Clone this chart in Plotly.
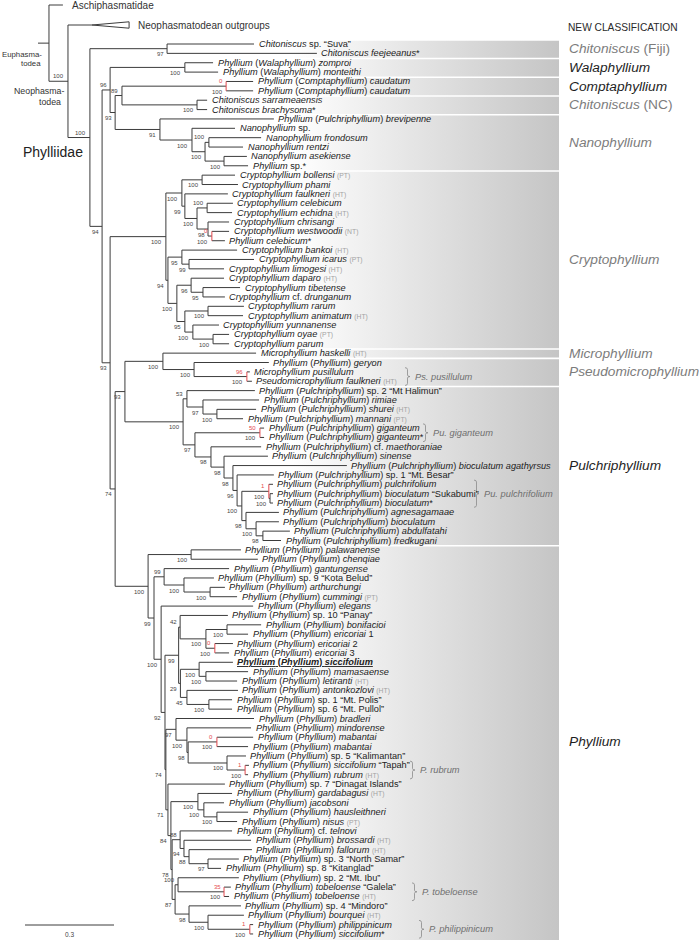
import re
import plotly.graph_objects as go

# ------------------------------------------------------------------ data
OUTGROUP_NAMES = ["Aschiphasmatidae", "Neophasmatodean outgroups"]

TIP_NAMES = [
    'Chitoniscus sp. “Suva”', 'Chitoniscus feejeeanus*',
    'Phyllium (Walaphyllium) zomproi', 'Phyllium (Walaphyllium) monteithi',
    'Phyllium (Comptaphyllium) caudatum', 'Phyllium (Comptaphyllium) caudatum',
    'Chitoniscus sarrameaensis', 'Chitoniscus brachysoma*',
    'Phyllium (Pulchriphyllium) brevipenne', 'Nanophyllium sp.', 'Nanophyllium frondosum',
    'Nanophyllium rentzi', 'Nanophyllium asekiense', 'Phyllium sp.*',
    'Cryptophyllium bollensi [PT]', 'Cryptophyllium phami', 'Cryptophyllium faulkneri [HT]',
    'Cryptophyllium celebicum', 'Cryptophyllium echidna [HT]', 'Cryptophyllium chrisangi',
    'Cryptophyllium westwoodii [NT]', 'Phyllium celebicum*', 'Cryptophyllium bankoi [HT]',
    'Cryptophyllium icarus [PT]', 'Cryptophyllium limogesi [HT]', 'Cryptophyllium daparo [HT]',
    'Cryptophyllium tibetense', 'Cryptophyllium cf. drunganum', 'Cryptophyllium rarum',
    'Cryptophyllium animatum [HT]', 'Cryptophyllium yunnanense', 'Cryptophyllium oyae [PT]',
    'Cryptophyllium parum',
    'Microphyllium haskelli [HT]', 'Phyllium (Phyllium) geryon', 'Microphyllium pusillulum',
    'Pseudomicrophyllium faulkneri [HT]',
    'Phyllium (Pulchriphyllium) sp. 2 “Mt Halimun”', 'Phyllium (Pulchriphyllium) rimiae',
    'Phyllium (Pulchriphyllium) shurei [HT]', 'Phyllium (Pulchriphyllium) mannani [PT]',
    'Phyllium (Pulchriphyllium) giganteum', 'Phyllium (Pulchriphyllium) giganteum*',
    'Phyllium (Pulchriphyllium) cf. maethoraniae', 'Phyllium (Pulchriphyllium) sinense',
    'Phyllium (Pulchriphyllium) bioculatum agathyrsus',
    'Phyllium (Pulchriphyllium) sp. 1 “Mt. Besar”', 'Phyllium (Pulchriphyllium) pulchrifolium',
    'Phyllium (Pulchriphyllium) bioculatum “Sukabumi”', 'Phyllium (Pulchriphyllium) bioculatum*',
    'Phyllium (Pulchriphyllium) agnesagamaae', 'Phyllium (Pulchriphyllium) bioculatum',
    'Phyllium (Pulchriphyllium) abdulfatahi', 'Phyllium (Pulchriphyllium) fredkugani',
    'Phyllium (Phyllium) palawanense', 'Phyllium (Phyllium) chenqiae',
    'Phyllium (Phyllium) gantungense', 'Phyllium (Phyllium) sp. 9 “Kota Belud”',
    'Phyllium (Phyllium) arthurchungi', 'Phyllium (Phyllium) cummingi [PT]',
    'Phyllium (Phyllium) elegans', 'Phyllium (Phyllium) sp. 10 “Panay”',
    'Phyllium (Phyllium) bonifacioi', 'Phyllium (Phyllium) ericoriai 1',
    'Phyllium (Phyllium) ericoriai 2', 'Phyllium (Phyllium) ericoriai 3',
    'Phyllium (Phyllium) siccifolium', 'Phyllium (Phyllium) mamasaense',
    'Phyllium (Phyllium) letiranti [HT]', 'Phyllium (Phyllium) antonkozlovi [HT]',
    'Phyllium (Phyllium) sp. 1 “Mt. Polis”', 'Phyllium (Phyllium) sp. 6 “Mt. Pullol”',
    'Phyllium (Phyllium) bradleri', 'Phyllium (Phyllium) mindorense',
    'Phyllium (Phyllium) mabantai', 'Phyllium (Phyllium) mabantai',
    'Phyllium (Phyllium) sp. 5 “Kalimantan”', 'Phyllium (Phyllium) siccifolium “Tapah”',
    'Phyllium (Phyllium) rubrum [HT]', 'Phyllium (Phyllium) sp. 7 “Dinagat Islands”',
    'Phyllium (Phyllium) gardabagusi [HT]', 'Phyllium (Phyllium) jacobsoni',
    'Phyllium (Phyllium) hausleithneri', 'Phyllium (Phyllium) nisus [PT]',
    'Phyllium (Phyllium) cf. telnovi', 'Phyllium (Phyllium) brossardi [HT]',
    'Phyllium (Phyllium) fallorum [HT]', 'Phyllium (Phyllium) sp. 3 “North Samar”',
    'Phyllium (Phyllium) sp. 8 “Kitanglad”', 'Phyllium (Phyllium) sp. 2 “Mt. Ibu”',
    'Phyllium (Phyllium) tobeloense “Galela”', 'Phyllium (Phyllium) tobeloense [HT]',
    'Phyllium (Phyllium) sp. 4 “Mindoro”', 'Phyllium (Phyllium) bourquei [HT]',
    'Phyllium (Phyllium) philippinicum', 'Phyllium (Phyllium) siccifolium*',
]
BOLD_TIPS = [67]

# Tree in Newick-like form. tNN = tip NN of TIP_NAMES. Number after ':' is the
# root-to-node distance (substitutions/site). Internal label = support value,
# '/x' = red value, trailing 'a' = value printed above the branch.
CHIT_FIJI = "(t01:.728,t02:.940)97:.435"
WALA = "(t03:.590,t04:.607)100:.495"
COMPT = "(t05:.725,t06:.725)100/0:.634"
CHIT_NC = "(t07:.570,t08:.570)100:.536"
NANO = ("(t09:.795,(t10:.664,((t11:.752,t12:.691)100a:.576,(t13:.704,t14:.708)100:.627)100:.563)"
        "100:.519)91:.411")
CRYPTO = ("(((t15:.664,t16:.674)100:.553,(t17:.640,((t18:.657,t19:.654)100a:.570,(t20:.644,"
          "(t21:.644,t22:.630)100/0:.586)98:.573)100:.536)99:.495)100:.485,((t23:.671,(t24:.728,"
          "t25:.627)99:.509)95:.485,((t26:.627,(t27:.681,t28:.630)95:.556)96:.516,((t29:.694,"
          "t30:.691)100:.573,(t31:.610,(t32:.644,t33:.644)100:.590)100:.522)95:.495)100:.468)"
          "94:.438)100:.431")
MICRO = "(t34:.735,(t35:.778,(t36:.714,t37:.721)100/96:.704)100:.526)100:.421"
PULCHRI = ("((t38:.731,(t39:.745,(t40:.735,t41:.691)100:.603)97:.556)53a:.502,((t42:.762,"
           "t43:.762)100/50:.748,(t44:.752,(t45:.775,(t46:1.041,(t47:.795,((t48:.792,(t49:.792,"
           "t50:.792)100:.782)100/1:.778,(t51:.812,(t52:.812,(t53:.849,t54:.819)98:.758)100:.735)"
           "98:.701)100:.687)96:.671)98:.657)98:.627)98:.583)97:.529)100:.489")
PH_A = ("((t62:.640,((t63:.752,t64:.708)100:.637,(t65:.657,t66:.644)100/0:.596)100:.566)42a:.479,"
        "((t67:.657,(t68:.708,t69:.671)100:.566)100:.543,(t70:.674,(t71:.654,t72:.654)100:.576)"
        "45:.502)29:.480)99:.474")
PH_B = ("((t73:.728,(t74:.718,((t75:.725,t76:.708)100/0:.603,(t77:.701,(t78:.711,t79:.708)"
        "100/1:.698)100:.637)98:.506)100:.502)97:.465,(t80:.630,((t81:.654,(t82:.627,(t83:.708,"
        "t84:.671)100:.603)100:.559)100:.539,((t85:.654,(t86:.718,(t87:.721,(t88:.677,t89:.617)"
        "97:.573)88:.509)94:.492)88a:.479,((t90:.677,(t91:.650,t92:.644)100/35:.627)100a:.472,"
        "(t93:.684,(t94:.694,(t95:.725,t96:.725)100/1:.714)100:.573)98:.509)87:.462)78:.452)"
        "84:.448)71:.438)74:.431")
PHYLLIUM = ("((t55:.684,t56:.741)100:.516,((t57:.644,(t58:.593,(t59:.630,t60:.671)100:.580)"
            "100:.492)99a:.425,(t61:.725,({PH_A},{PH_B})92:.428)100:.415)99:.391)100:.371")
BACKBONE = ("(aschi:.084,(neo:.182,({CHIT_FIJI},(({WALA},(({COMPT},{CHIT_NC})89a:.283,{NANO})"
            "93:.260)96a:.243,({CRYPTO},(({MICRO},{PULCHRI})93:.293,{PHYLLIUM})74:.260)93:.243)"
            "94:.216)100a:.175)100a:.101):.037")
NEO_CLADE_TIP_DEPTH = 0.307
SCALE_BAR = 0.3

GROUPS = [  # first tip, last tip, new classification, emphasised
    (1, 2, "<i>Chitoniscus</i> (Fiji)", False),
    (3, 4, "<i>Walaphyllium</i>", True),
    (5, 6, "<i>Comptaphyllium</i>", True),
    (7, 8, "<i>Chitoniscus</i> (NC)", False),
    (9, 14, "<i>Nanophyllium</i>", False),
    (15, 33, "<i>Cryptophyllium</i>", False),
    (34, 34, "<i>Microphyllium</i>", False),
    (35, 37, "<i>Pseudomicrophyllium</i>", False),
    (38, 54, "<i>Pulchriphyllium</i>", True),
    (55, 96, "<i>Phyllium</i>", True),
]
SPECIES_BRACES = [  # first tip, last tip, name, brace x (px)
    (36, 37, "Ps. pusillulum", 405),
    (42, 43, "Pu. giganteum", 423),
    (48, 50, "Pu. pulchrifolium", 474),
    (78, 79, "P. rubrum", 410),
    (91, 92, "P. tobeloense", 412),
    (95, 96, "P. philippinicum", 419),
]

# ------------------------------------------------------------------ layout constants
W, H = 699, 940
PX_PER_UNIT = 296.7
ROOT_PX = 38.0
ROW1_PX, ROW_PX = 44.0, 9.368
FONT = "Liberation Sans, Arial, sans-serif"
LINE_C = "#3c3c3c"
RED = "#e5484d"


def xr(px):
    return (px - ROOT_PX) / PX_PER_UNIT


def yr(py):
    return (py - ROW1_PX) / ROW_PX + 1


def px_paper(px):
    return px / W


def py_paper(py):
    return 1 - py / H


OUTGROUP_ROWS = {"aschi": yr(5), "neo": yr(25)}


# ------------------------------------------------------------------ parse tree
def parse(s):
    s = re.sub(r"\s+", "", s) + ";"
    pos = 0

    def node():
        nonlocal pos
        nd = {"children": []}
        if s[pos] == "(":
            pos += 1
            nd["children"].append(node())
            while s[pos] == ",":
                pos += 1
                nd["children"].append(node())
            assert s[pos] == ")", s[pos - 20:pos + 20]
            pos += 1
        j = pos
        while s[pos] not in ":,);":
            pos += 1
        nd["label"] = s[j:pos]
        nd["depth"] = 0.0
        if s[pos] == ":":
            pos += 1
            j = pos
            while s[pos] not in ",);":
                pos += 1
            nd["depth"] = float(s[j:pos])
        return nd

    root = node()
    assert s[pos] == ";"
    return root


tree_str = BACKBONE.format(CHIT_FIJI=CHIT_FIJI, WALA=WALA, COMPT=COMPT, CHIT_NC=CHIT_NC,
                           NANO=NANO, CRYPTO=CRYPTO, MICRO=MICRO, PULCHRI=PULCHRI,
                           PHYLLIUM=PHYLLIUM.format(PH_A=PH_A, PH_B=PH_B))
root = parse(tree_str)


def set_y(nd):
    if not nd["children"]:
        lab = nd["label"]
        nd["y"] = OUTGROUP_ROWS[lab] if lab in OUTGROUP_ROWS else int(lab[1:])
    else:
        for c in nd["children"]:
            set_y(c)
        nd["y"] = (nd["children"][0]["y"] + nd["children"][-1]["y"]) / 2


set_y(root)

lx, ly, rx, ry = [], [], [], []
annotations = []
tips = []


def sup_ann(text, x, y, above, color):
    return dict(x=x, y=y, xref="x", yref="y", text=text, showarrow=False, xanchor="right",
                yanchor="middle", xshift=-2.5, yshift=(5.0 if above else -5.5), borderpad=0,
                font=dict(family=FONT, size=6, color=color))


def walk(nd):
    if not nd["children"]:
        tips.append(nd)
        return
    ch = nd["children"]
    m = re.match(r"^(\d+)(a?)(?:/(\d+))?$", nd["label"]) if nd["label"] else None
    red = m is not None and m.group(3) is not None
    vx, vy = (rx, ry) if red else (lx, ly)
    vx += [nd["depth"], nd["depth"], None]
    vy += [ch[0]["y"], ch[-1]["y"], None]
    for c in ch:
        lx.extend([nd["depth"], c["depth"], None])
        ly.extend([c["y"], c["y"], None])
        walk(c)
    if m:
        if red:
            annotations.append(sup_ann(m.group(3), nd["depth"], nd["y"], True, RED))
            annotations.append(sup_ann(m.group(1), nd["depth"], nd["y"], False, "#454545"))
        else:
            annotations.append(sup_ann(m.group(1), nd["depth"], nd["y"], m.group(2) == "a",
                                       "#454545"))


lx += [0, root["depth"], None]
ly += [root["y"], root["y"], None]
walk(root)


# ------------------------------------------------------------------ tip labels
def fmt(name):
    status = ""
    mm = re.search(r"\s\[(HT|PT|NT)\]$", name)
    if mm:
        status = mm.group(1)
        name = name[:mm.start()]
    out, inq = [], False
    for t in name.split(" "):
        if inq:
            out.append(t)
            inq = not t.endswith("”")
            continue
        if t.startswith("“"):
            out.append(t)
            inq = not t.endswith("”")
            continue
        star = ""
        if t.endswith("*"):
            t, star = t[:-1], "*"
        if t in ("sp.", "cf.") or t.isdigit():
            out.append(t + star)
        elif t.startswith("(") and t.endswith(")"):
            out.append("(<i>" + t[1:-1] + "</i>)" + star)
        else:
            out.append("<i>" + t + "</i>" + star)
    s = " ".join(out)
    if status:
        s += ' <span style="font-size:6.8px;color:#a3a3a3">(' + status + ")</span>"
    return s


neo_tip = None
for tp in tips:
    lab = tp["label"]
    if lab in OUTGROUP_ROWS:
        idx = 0 if lab == "aschi" else 1
        if lab == "neo":
            neo_tip = tp
        xend = NEO_CLADE_TIP_DEPTH if lab == "neo" else tp["depth"]
        annotations.append(dict(x=xend, y=tp["y"], xref="x", yref="y",
                                text=OUTGROUP_NAMES[idx], showarrow=False, xanchor="left",
                                yanchor="middle", xshift=8, borderpad=0,
                                font=dict(family=FONT, size=10, color="#333333")))
        continue
    i = int(lab[1:])
    txt = fmt(TIP_NAMES[i - 1])
    if i in BOLD_TIPS:
        txt = '<b><span style="text-decoration:underline">' + txt + "</span></b>"
    annotations.append(dict(x=tp["depth"], y=tp["y"], xref="x", yref="y", text=txt,
                            showarrow=False, xanchor="left", yanchor="middle", xshift=3.5,
                            borderpad=0, font=dict(family=FONT, size=9.2, color="#222222")))

# ------------------------------------------------------------------ figure
fig = go.Figure()

# background bands with horizontal gradient
for (a, b, lab, emph) in GROUPS:
    y0, y1 = a - 0.5 + 0.14, b + 0.5 - 0.03
    if b == len(TIP_NAMES):
        y1 = yr(H) + 1
    x0, x1 = xr(250), xr(559)
    fig.add_trace(go.Scatter(
        x=[x0, x1, x1, x0, x0], y=[y0, y0, y1, y1, y0], mode="lines", fill="toself",
        line=dict(width=0, color="rgba(0,0,0,0)"),
        fillgradient=dict(type="horizontal", colorscale=[[0, "#ffffff"], [1, "#c5c5c5"]],
                          start=xr(292), stop=x1),
        hoverinfo="skip", showlegend=False))
    annotations.append(dict(x=px_paper(568), y=(a + b) / 2, xref="paper", yref="y", text=lab,
                            showarrow=False, xanchor="left", yanchor="middle", borderpad=0,
                            font=dict(family=FONT, size=13.7,
                                      color="#1e1e1e" if emph else "#7c7c7c")))

fig.add_trace(go.Scatter(x=lx, y=ly, mode="lines", line=dict(color=LINE_C, width=1),
                         hoverinfo="skip", showlegend=False))
fig.add_trace(go.Scatter(x=rx, y=ry, mode="lines", line=dict(color=RED, width=1),
                         hoverinfo="skip", showlegend=False))

# collapsed outgroup triangle
ny = neo_tip["y"]
fig.add_trace(go.Scatter(
    x=[neo_tip["depth"], NEO_CLADE_TIP_DEPTH, NEO_CLADE_TIP_DEPTH, neo_tip["depth"]],
    y=[ny, ny - 0.34, ny + 0.34, ny], mode="lines", line=dict(color=LINE_C, width=1),
    hoverinfo="skip", showlegend=False))

# scale bar
sb_x0, sb_row = xr(25), yr(925)
fig.add_trace(go.Scatter(x=[sb_x0, sb_x0 + SCALE_BAR], y=[sb_row, sb_row], mode="lines",
                         line=dict(color=LINE_C, width=1), hoverinfo="skip", showlegend=False))
annotations.append(dict(x=sb_x0 + SCALE_BAR / 2, y=yr(934), xref="x", yref="y",
                        text=str(SCALE_BAR), showarrow=False, xanchor="center", yanchor="middle",
                        font=dict(family=FONT, size=6.5, color="#444444")))

# species braces
shapes = []
dxp, dyp = 1 / PX_PER_UNIT, 1 / ROW_PX
for (a, b, name, bx) in SPECIES_BRACES:
    x = xr(bx)
    yt, yb = a - 0.45, b + 0.45
    ym = (yt + yb) / 2
    w = 5 * dxp
    path = (f"M {x},{yt} Q {x + w / 2},{yt} {x + w / 2},{yt + 2 * dyp} "
            f"L {x + w / 2},{ym - 1.5 * dyp} Q {x + w / 2},{ym} {x + w},{ym} "
            f"Q {x + w / 2},{ym} {x + w / 2},{ym + 1.5 * dyp} "
            f"L {x + w / 2},{yb - 2 * dyp} Q {x + w / 2},{yb} {x},{yb}")
    shapes.append(dict(type="path", path=path, xref="x", yref="y",
                       line=dict(color="#8a8a8a", width=0.8)))
    annotations.append(dict(x=x + w, y=ym, xref="x", yref="y", text="<i>" + name + "</i>",
                            showarrow=False, xanchor="left", yanchor="middle", xshift=4,
                            borderpad=0, font=dict(family=FONT, size=9.3, color="#707070")))


def static(text, px, py, anchor, size, color="#333333", family=FONT):
    return dict(x=px_paper(px), y=py_paper(py), xref="paper", yref="paper", text=text,
                showarrow=False, xanchor=anchor, yanchor="middle", borderpad=0,
                font=dict(family=family, size=size, color=color))


annotations += [
    static("Euphasma-", 0.5, 54, "left", 7.8),
    static("todea", 42, 64, "right", 7.8),
    static("Neophasma-", 13, 91, "left", 8.8),
    static("todea", 62, 102, "right", 8.8),
    static("Phylliidae", 22, 151.5, "left", 14, "#222222"),
    static("NEW CLASSIFICATION", 567, 27, "left", 10.2, "#2a2a2a"),
]

fig.update_layout(
    width=W, height=H, autosize=False, margin=dict(l=0, r=0, t=0, b=0),
    paper_bgcolor="white", plot_bgcolor="white", showlegend=False,
    xaxis=dict(range=[xr(0), xr(W)], visible=False, fixedrange=True),
    yaxis=dict(range=[yr(H), yr(0)], visible=False, fixedrange=True),
    annotations=annotations, shapes=shapes,
)
# remove the page's default 8px body margin so the figure sits at the window's corner
fig.write_html("out.html", config={"displayModeBar": False},
               post_script="document.body.style.margin='0px';")
